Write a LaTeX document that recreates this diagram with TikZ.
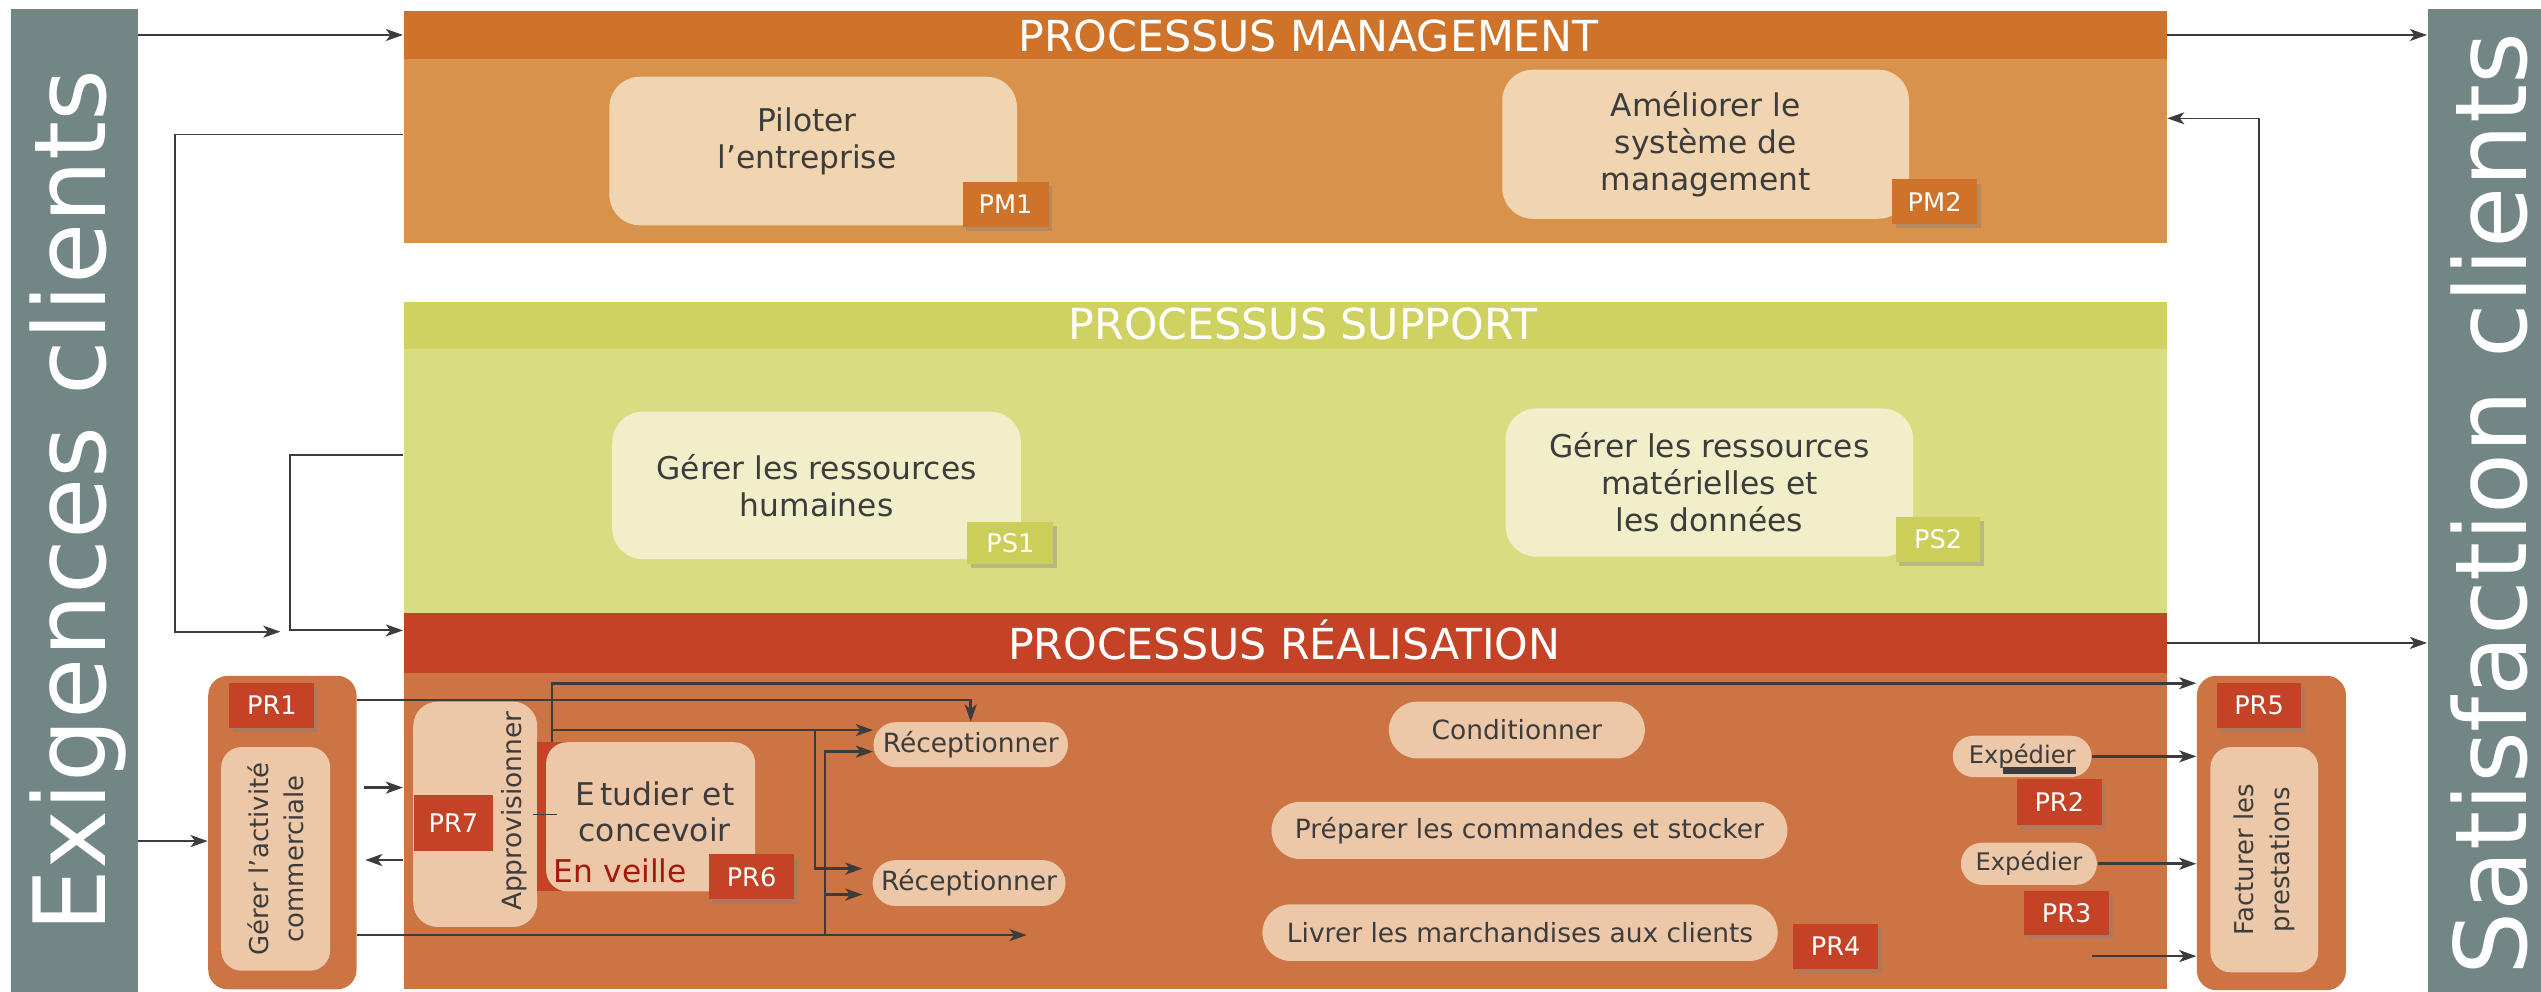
\documentclass[tikz,border=0pt]{standalone}
\usepackage{fontspec}
\setmainfont{DejaVu Sans}
\usetikzlibrary{arrows.meta,shapes.misc,shadows}

\definecolor{bargray}{RGB}{114,135,133}
\definecolor{mgthead}{RGB}{207,115,43}
\definecolor{mgtbody}{RGB}{216,146,76}
\definecolor{mgtbox}{RGB}{240,213,176}
\definecolor{suphead}{RGB}{207,210,97}
\definecolor{supbody}{RGB}{218,220,130}
\definecolor{supbox}{RGB}{240,239,202}
\definecolor{suplab}{RGB}{203,206,88}
\definecolor{reahead}{RGB}{196,67,39}
\definecolor{reabody}{RGB}{204,116,67}
\definecolor{reabox}{RGB}{237,200,168}
\definecolor{ink}{RGB}{60,60,60}
\definecolor{veillered}{RGB}{165,25,12}

\newcommand{\unitpx}{0.02cm}

\tikzset{
  sz/.style 2 args = {minimum width=#1*\unitpx, minimum height=#2*\unitpx},
  band/.style = {inner sep=0pt},% bandeau plein
  bar/.style = {band, fill=bargray},% colonne laterale
  bartxt/.style = {rotate=90, anchor=base, text=white, inner sep=0pt,
    font=\fontsize{35}{40}\selectfont},
  hdrtxt/.style = {anchor=base, text=white, inner sep=0pt,
    font=\fontsize{15}{18}\selectfont},% titre de bandeau
  boxtxt/.style = {inner sep=0pt, align=center, text=ink,
    font=\fontsize{11}{13}\selectfont},
  bigbox/.style = {boxtxt, rounded corners=0.38cm},% boite processus
  lab/.style = {inner sep=0pt, fill=reahead, text=white,
    font=\fontsize{9}{10}\selectfont},% etiquette
  labsh/.style = {lab, drop shadow={shadow xshift=1.2pt,
    shadow yshift=-1.5pt, opacity=0.4}},% etiquette ombree
  grp/.style = {inner sep=0pt, fill=reabody, rounded corners=0.24cm},% groupe
  vbox/.style = {inner sep=0pt, fill=reabox, text=ink, rotate=90,
    align=center, rounded corners=0.25cm,
    font=\fontsize{9.1}{12.5}\selectfont},% boite verticale
  vtxt/.style = {inner sep=0pt, text=ink, rotate=90,
    font=\fontsize{9.3}{11}\selectfont},
  pill/.style = {rounded rectangle, inner sep=0pt, fill=reabox, text=ink,
    font=\fontsize{9.3}{11}\selectfont},% activite
  arr/.style = {->, draw=ink, line width=0.9pt},
  fin/.style = {->, draw=ink, line width=0.65pt}
}

\begin{document}
\begin{tikzpicture}[x=\unitpx, y=-\unitpx,
  >={Stealth[length=6pt,width=4.2pt,inset=1.6pt]}]
\useasboundingbox (0,0) rectangle (1568,612);

% colonnes clients
\node[bar, sz={78}{606.4}] (exig) at (46,308.8) {};
\node[bartxt] (exigtxt) at (65,309) {Exigences clients};
\node[bar, sz={70}{606.4}] (satis) at (1533,308.8) {};
\node[bartxt] (satistxt) at (1559,311) {Satisfaction clients};

% processus management
\node[band, fill=mgthead, sz={1088}{29.6}] (pmh) at (793,21.6) {};
\node[hdrtxt] (pmhtxt) at (807.5,32) {PROCESSUS MANAGEMENT};
\node[band, fill=mgtbody, sz={1088}{113.6}] (pmb) at (793,93.2) {};
\node[bigbox, fill=mgtbox, sz={251.6}{91.7}] (pilot) at (501.8,93.2) {};
\node[boxtxt] (pilottxt) at (498,87) {Piloter\\l’entreprise};
\node[labsh, fill=mgthead, sz={53}{28}] (pm1) at (620.5,126) {PM1};
\node[bigbox, fill=mgtbox, sz={251}{92}] (amel) at (1052.5,89)
  {Améliorer le\\système de\\management};
\node[labsh, fill=mgthead, sz={52.5}{27.3}] (pm2) at (1193.8,124.4) {PM2};

% processus support
\node[band, fill=suphead, sz={1088}{29}] (sph) at (793,200.9) {};
\node[hdrtxt] (sphtxt) at (804,209.4) {PROCESSUS SUPPORT};
\node[band, fill=supbody, sz={1088}{163.1}] (spb) at (793,297) {};
\node[bigbox, fill=supbox, sz={252.2}{91}] (grh) at (503.9,299.5)
  {Gérer les ressources\\humaines};
\node[labsh, fill=suplab, sz={53}{26}] (ps1) at (623.5,335) {PS1};
\node[bigbox, fill=supbox, sz={251.5}{91.5}] (gmat) at (1054.8,297.8)
  {Gérer les ressources\\matérielles et\\les données};
\node[labsh, fill=suplab, sz={52}{27.6}] (ps2) at (1196,332.8) {PS2};

% processus realisation
\node[band, fill=reahead, sz={1088}{36.5}] (prh) at (793,396.75) {};
\node[hdrtxt] (prhtxt) at (792.5,406.9) {PROCESSUS RÉALISATION};
\node[band, fill=reabody, sz={1088}{195}] (prb) at (793,512.5) {};

\node[grp, sz={91.5}{193.5}] (pr1grp) at (174.25,513.75) {};
\node[labsh, sz={52.5}{27.4}] (pr1) at (167.75,435.3) {PR1};
\node[vbox, sz={138}{67.2}] (gac) at (170.1,530) {Gérer l’activité\\commerciale};

\node[grp, sz={92}{194}] (pr5grp) at (1401.65,514) {};
\node[labsh, sz={52}{27.4}] (pr5) at (1394,435.3) {PR5};
\node[vbox, sz={139}{66.5}] (fact) at (1397.25,530.5) {Facturer les\\prestations};

\node[inner sep=0pt, fill=reabox, rounded corners=0.3cm, sz={76.5}{139}]
  (appro) at (293.25,502.5) {};
\node[lab, sz={48.4}{34.4}] (pr7) at (279.8,507.8) {PR7};
\node[vtxt] (approtxt) at (317,500.6) {Approvisionner};

\node[band, fill=reahead, sz={18.5}{92}] (etudbar) at (340.75,504) {};
\node[inner sep=0pt, fill=reabox, rounded corners=0.26cm, sz={129}{92}]
  (etud) at (401.5,504) {};
\node[inner sep=0pt, text=ink, align=center,
  font=\fontsize{11}{12.7}\selectfont] (etudtxt) at (404,501)
  {E\,tudier et\\concevoir};
\node[anchor=base west, inner sep=0pt, text=veillered,
  font=\fontsize{11}{13}\selectfont] (veil) at (341.5,544.7) {En veille};
\node[labsh, sz={52.5}{28}] (pr6) at (463.75,541) {PR6};

\node[pill, sz={120}{27.7}] (rec1) at (599,459.5) {Réceptionner};
\node[pill, sz={119}{28.3}] (rec2) at (598,544.9) {Réceptionner};
\node[pill, sz={158}{35}] (cond) at (936,450.5) {Conditionner};
\node[pill, sz={318.4}{35.3}] (prep) at (943.8,512.4)
  {Préparer les commandes et stocker};
\node[pill, sz={318}{35}] (livr) at (938,575.5)
  {Livrer les marchandises aux clients};
\node[labsh, sz={52.5}{28}] (pr4) at (1132.75,584) {PR4};
\node[pill, font=\fontsize{8.5}{10}\selectfont, sz={85.7}{25.5}] (exp1)
  at (1247.85,466.75) {Expédier};
\fill[ink] (1236,473) rectangle (1281,477.5);
\node[labsh, sz={52.5}{28}] (pr2) at (1270.75,495) {PR2};
\node[pill, font=\fontsize{8.5}{10}\selectfont, sz={84}{26}] (exp2)
  at (1252,533) {Expédier};
\node[labsh, sz={52.5}{27}] (pr3) at (1275.25,563.5) {PR3};

% flux exterieurs
\draw[fin] (exig.east |- pmh.west) -- (pmh.west);
\draw[fin] (pmh.east) -- (satis.west |- pmh.east);
\coordinate (mgtin) at (173,389.8);
\draw[fin] (pmb.west |- 0,83) -| (108,389.8) -- (mgtin);
\draw[fin] (spb.west |- 0,281) -| (179,389) -- (prh.west |- 0,389);
\draw[fin] (prh.east) -- (satis.west |- prh.east);
\coordinate (fb) at (1394,396.75);
\draw[fin, line width=0.5pt] (fb) |- (pmb.east |- 0,73);

% flux realisation
\draw[arr] (exig.east |- 0,519) -- (pr1grp.west |- 0,519);
\draw[arr] (pr1grp.east |- 0,432) -| (rec1.north);
\draw[arr] (etudbar.north) |- (pr5grp.west |- 0,421.6);
\coordinate (brA) at (340.75,450.5);
\draw[arr] (brA) -- (rec1.west |- brA);
\coordinate (brB) at (503,450.5);
\draw[arr, shorten >=0.12cm] (brB) |- (rec2.west |- 0,536);
\coordinate (outlow) at (633.5,577);
\draw[arr] (pr1grp.east |- outlow) -- (outlow);
\coordinate (brC) at (509,577);
\draw[arr] (brC) |- (rec1.west |- 0,463.8);
\draw[arr, shorten >=0.12cm] (brC |- 0,552) -- (rec2.west |- 0,552);
\draw[arr, shorten <=0.09cm] (pr1grp.east |- 0,486) -- (prb.west |- 0,486);
\draw[arr, shorten >=0.1cm] (prb.west |- 0,530.7) -- (pr1grp.east |- 0,530.7);
\draw[ink, line width=0.3pt] ([xshift=-0.06cm]appro.east) -- ([xshift=0.24cm]appro.east);
\draw[arr] (exp1.east) -- (pr5grp.west |- exp1.east);
\draw[arr] (exp2.east) -- (pr5grp.west |- exp2.east);
\coordinate (pr3out) at (1291,590);
\draw[arr] (pr3out) -- (pr5grp.west |- pr3out);
\end{tikzpicture}
\end{document}
